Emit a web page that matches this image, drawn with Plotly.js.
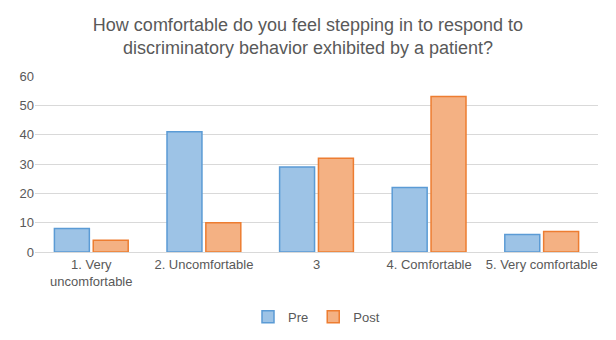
<!DOCTYPE html>
<html><head><meta charset="utf-8">
<script src="https://cdn.plot.ly/plotly-3.0.1.min.js"></script>
<style>html,body{margin:0;padding:0;background:#fff}#chart{width:616px;height:340px}</style>
</head><body><div id="chart"></div>
<script>
const categories = ["1. Very<br>uncomfortable", "2. Uncomfortable", "3", "4. Comfortable", "5. Very comfortable"];
const preValues = [8, 41, 29, 22, 6];
const postValues = [4, 10, 32, 53, 7];
const yTicks = [0, 10, 20, 30, 40, 50, 60];

const font = "Liberation Sans, Arial, sans-serif";
const data = [
  {type:"bar", name:"Pre", x:categories, y:preValues,
   marker:{color:"#9DC3E6", line:{color:"#5B9BD5", width:1.5}}},
  {type:"bar", name:"Post", x:categories, y:postValues,
   marker:{color:"#F4B183", line:{color:"#ED7D31", width:1.5}}}
];
const layout = {
  width:616, height:340,
  margin:{l:35, r:18, t:76, b:88},
  paper_bgcolor:"#fff", plot_bgcolor:"#fff",
  font:{family:font, color:"#595959", size:13},
  title:{text:"How comfortable do you feel stepping in to respond to<br>discriminatory behavior exhibited by a patient?",
    x:0.5, xanchor:"center", yref:"container", y:0.91, yanchor:"top", font:{size:18, color:"#595959", family:font}},
  barmode:"group", bargap:0.31, bargroupgap:0.1,
  xaxis:{automargin:false, showgrid:false, showline:true, linecolor:"#d9d9d9", linewidth:1, ticks:"", tickfont:{size:13, color:"#595959"}},
  yaxis:{automargin:false, range:[0,60], tickvals:yTicks, showgrid:true, gridcolor:"#d9d9d9", gridwidth:1, zeroline:false,
    ticks:"", tickfont:{size:13, color:"#595959"}},
  legend:{orientation:"h", x:0.5, xanchor:"center", yref:"container", y:0.068, yanchor:"middle",
    itemwidth:30, font:{size:13, color:"#595959"}},
  showlegend:true
};
Plotly.newPlot("chart", data, layout, {displayModeBar:false, staticPlot:true});
</script></body></html>
